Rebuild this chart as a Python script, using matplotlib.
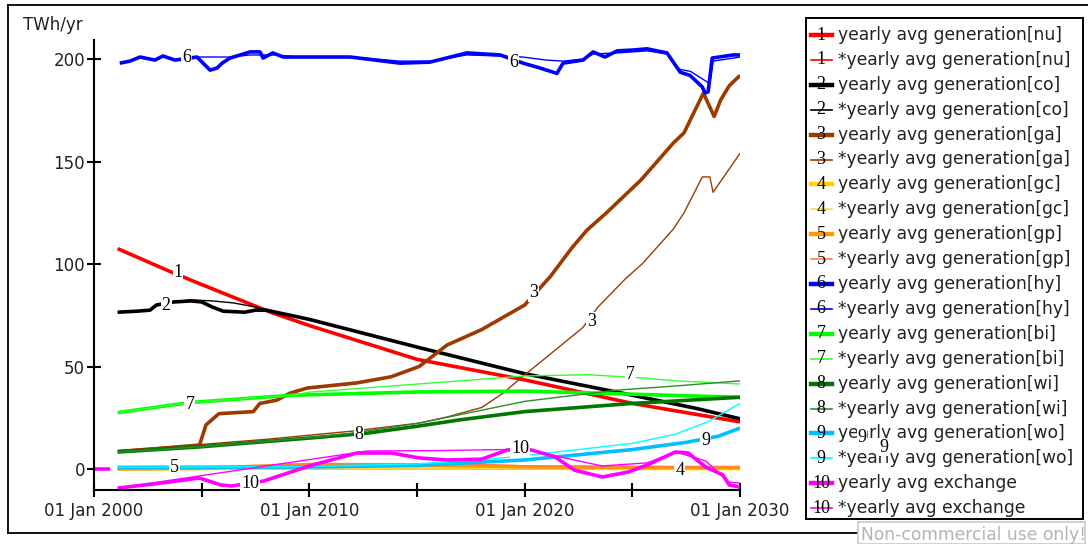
import matplotlib
matplotlib.use("Agg")
import matplotlib.pyplot as plt
import numpy as np
from matplotlib.lines import Line2D
from matplotlib.patches import Rectangle

# ---------------- data (TWh/yr, time in decimal years) ----------------
nu_t = [2001.1, 2003.5, 2005.0, 2008.2, 2010.0, 2015.0, 2020.0, 2025.0, 2030.0]
nu_v = [107.5, 96.5, 90.0, 76.5, 70.0, 53.5, 43.5, 32.0, 23.0]
nu_star_t = nu_t
nu_star_v = nu_v

co_t = [2001.1, 2002.0, 2002.6, 2002.9, 2003.7, 2004.5, 2005.0, 2005.5, 2006.0, 2007.0,
        2007.5, 2008.0, 2010.0, 2015.0, 2020.0, 2025.0, 2028.0, 2030.0]
co_v = [76.5, 77.0, 77.5, 80.0, 81.5, 82.0, 81.5, 79.0, 77.0, 76.5,
        77.5, 77.5, 73.0, 59.5, 46.5, 36.0, 29.5, 24.5]
co_star_t = [2001.1, 2002.0, 2002.6, 2002.9, 2003.7, 2004.5, 2005.5, 2006.5, 2007.5,
             2008.0, 2010.0, 2015.0, 2020.0, 2025.0, 2028.0, 2030.0]
co_star_v = [76.5, 77.0, 77.5, 80.0, 81.5, 82.5, 82.0, 81.0, 79.0,
             77.5, 73.0, 59.5, 46.5, 36.0, 29.5, 24.5]

ga_t = [2001.1, 2003.0, 2004.9, 2005.2, 2005.8, 2007.4, 2007.7, 2008.5, 2009.1, 2009.9,
        2012.2, 2013.8, 2015.1, 2016.4, 2018.0, 2020.0, 2021.2, 2022.2, 2022.9, 2023.8,
        2025.4, 2026.9, 2027.4, 2028.3, 2028.8, 2029.1, 2029.5, 2030.0]
ga_v = [8.5, 10.0, 11.7, 21.5, 27.0, 28.0, 32.0, 33.6, 37.0, 39.5,
        42.0, 45.0, 50.0, 60.5, 68.0, 80.0, 94.0, 108.0, 116.6, 125.0,
        141.0, 159.0, 164.0, 183.4, 172.0, 180.0, 187.0, 192.0]
ga_star_t = [2001.1, 2005.0, 2008.0, 2010.0, 2012.0, 2015.1, 2016.4, 2018.0, 2019.0, 2020.0,
             2020.25, 2022.7, 2023.4, 2024.7, 2025.45, 2026.9, 2027.4, 2028.25, 2028.6,
             2028.75, 2030.0]
ga_star_v = [9.0, 12.0, 14.5, 16.5, 18.5, 22.4, 25.4, 30.0, 37.0, 46.0,
             48.0, 69.0, 79.0, 93.0, 100.0, 117.0, 125.0, 142.5, 142.5,
             135.0, 154.0]

gc_t = [2001.1, 2010.0, 2020.0, 2030.0]
gc_v = [0.2, 0.4, 0.4, 0.2]
gc_star_t = gc_t
gc_star_v = [0.3, 0.5, 0.5, 0.3]

gp_t = [2001.1, 2005.0, 2008.0, 2010.0, 2015.0, 2018.0, 2020.0, 2025.0, 2030.0]
gp_v = [0.0, 0.3, 1.5, 2.2, 2.0, 1.5, 1.0, 0.8, 0.7]
gp_star_t = gp_t
gp_star_v = [0.0, 0.4, 1.8, 2.6, 2.6, 2.2, 1.6, 1.2, 1.0]

hy_t = [2001.2, 2001.67, 2002.14, 2002.83, 2003.2, 2003.76, 2004.78, 2005.39, 2005.71, 2005.95,
        2006.32, 2007.25, 2007.71, 2007.85, 2008.31, 2008.78, 2009.57, 2011.89, 2012.68, 2014.21,
        2015.6, 2017.32, 2018.86, 2019.93, 2020.72, 2021.5, 2021.78, 2022.71, 2023.18, 2023.73,
        2024.29, 2025.03, 2025.68, 2026.61, 2027.22, 2027.68, 2028.24, 2028.38, 2028.52, 2028.71,
        2029.68, 2030.0]
hy_v = [198.0, 199.0, 201.0, 199.5, 201.5, 199.5, 201.0, 194.6, 195.6, 198.0,
        200.5, 203.5, 203.5, 200.5, 203.0, 201.0, 201.0, 201.0, 200.0, 198.0,
        198.5, 203.0, 202.0, 198.0, 195.6, 193.0, 198.0, 199.5, 203.5, 201.0,
        204.0, 204.4, 205.0, 203.0, 193.6, 192.0, 186.5, 183.5, 184.0, 200.5,
        202.0, 202.0]
hy_star_t = [2001.2, 2001.67, 2002.14, 2002.83, 2003.2, 2003.76, 2004.78, 2005.5, 2006.3, 2007.25,
             2008.5, 2009.5, 2012.0, 2014.2, 2015.6, 2017.3, 2018.9, 2019.9, 2021.0, 2021.8,
             2022.7, 2023.2, 2024.3, 2025.7, 2026.6, 2027.2, 2027.7, 2028.3, 2028.6, 2028.75,
             2029.7, 2030.0]
hy_star_v = [198.0, 199.0, 201.0, 199.5, 201.5, 199.5, 201.0, 201.0, 201.0, 202.0,
             202.0, 201.0, 201.0, 199.0, 199.0, 202.0, 201.5, 201.0, 199.5, 199.0,
             200.0, 202.5, 203.0, 204.0, 202.5, 195.0, 194.0, 190.0, 188.0, 199.0,
             200.5, 201.0]

bi_t = [2001.1, 2003.8, 2004.8, 2009.2, 2015.1, 2020.0, 2025.0, 2030.0]
bi_v = [27.5, 31.5, 32.7, 36.0, 37.6, 38.0, 36.5, 35.0]
bi_star_t = [2001.1, 2003.8, 2004.8, 2009.2, 2010.0, 2015.1, 2017.0, 2020.0, 2023.0, 2025.5,
             2027.0, 2030.0]
bi_star_v = [27.5, 31.5, 32.7, 36.0, 37.5, 41.5, 43.0, 45.4, 46.0, 44.4,
             43.0, 41.5]

wi_t = [2001.1, 2004.8, 2010.0, 2012.7, 2015.1, 2017.0, 2020.0, 2025.0, 2030.0]
wi_v = [8.3, 10.7, 15.1, 17.5, 21.0, 24.0, 28.0, 32.0, 35.0]
wi_star_t = [2001.1, 2004.8, 2010.0, 2012.0, 2015.1, 2020.0, 2024.3, 2027.0, 2030.0]
wi_star_v = [8.3, 10.7, 15.3, 17.5, 22.4, 33.0, 38.5, 40.5, 43.0]

wo_t = [2001.1, 2010.0, 2015.0, 2020.0, 2025.0, 2027.5, 2029.0, 2030.0]
wo_v = [0.8, 1.0, 1.8, 4.4, 9.5, 13.0, 16.0, 20.0]
wo_star_t = [2001.1, 2010.0, 2015.0, 2018.0, 2020.0, 2025.0, 2027.0, 2028.5, 2030.0]
wo_star_v = [0.8, 1.2, 2.5, 4.5, 6.5, 12.5, 17.0, 23.0, 32.0]

ex_t = [2000.0, 2000.75, np.nan, 2001.1, 2003.0, 2004.9, 2005.9, 2006.4, 2007.9, 2010.0,
        2012.2, 2013.8, 2015.1, 2016.4, 2018.0, 2019.2, 2020.3, 2021.4, 2022.3, 2023.6,
        2024.8, 2025.7, 2027.0, 2027.6, 2028.4, 2029.2, 2029.5, 2030.0]
ex_v = [0.0, 0.0, np.nan, -9.3, -7.0, -4.4, -7.8, -8.3, -5.8, 1.5,
        7.8, 7.8, 5.4, 4.4, 4.8, 9.3, 9.3, 6.0, -0.5, -3.9,
        -1.5, 2.0, 8.3, 7.8, 1.0, -2.9, -7.8, -8.8]
ex_star_t = [2001.1, 2012.7, 2016.0, 2019.2, 2020.3, 2021.4, 2022.3, 2023.6, 2025.7, 2027.0,
             2028.4, 2029.5, 2030.0]
ex_star_v = [-9.3, 8.8, 9.0, 9.5, 9.3, 6.5, 4.4, 1.5, 3.0, 8.3,
             4.0, -6.5, -6.8]

legend_names = [
    "yearly avg generation[nu]", "*yearly avg generation[nu]",
    "yearly avg generation[co]", "*yearly avg generation[co]",
    "yearly avg generation[ga]", "*yearly avg generation[ga]",
    "yearly avg generation[gc]", "*yearly avg generation[gc]",
    "yearly avg generation[gp]", "*yearly avg generation[gp]",
    "yearly avg generation[hy]", "*yearly avg generation[hy]",
    "yearly avg generation[bi]", "*yearly avg generation[bi]",
    "yearly avg generation[wi]", "*yearly avg generation[wi]",
    "yearly avg generation[wo]", "*yearly avg generation[wo]",
    "yearly avg exchange", "*yearly avg exchange",
]
series_numbers = ["1", "2", "3", "4", "5", "6", "7", "8", "9", "10"]

# in-plot line labels: (text, year, value)
line_labels = [
    ("1", 2003.9, 96.0), ("2", 2003.35, 80.0), ("3", 2020.4, 86.3), ("3", 2023.1, 72.0),
    ("4", 2027.2, -0.5), ("5", 2003.75, 0.5), ("6", 2004.3, 201.0), ("6", 2019.5, 198.5),
    ("7", 2004.45, 31.7), ("7", 2024.9, 45.9), ("8", 2012.3, 16.6), ("9", 2028.4, 14.0),
    ("10", 2007.25, -7.3), ("10", 2019.8, 9.8),
]

# ---------------- styling ----------------
THICK, THIN = 2.6, 1.0
styles = [
    (nu_t, nu_v, "#ff0000", THICK), (nu_star_t, nu_star_v, "#ff0000", THIN),
    (co_t, co_v, "#000000", THICK), (co_star_t, co_star_v, "#000000", THIN),
    (ga_t, ga_v, "#9c3a00", THICK), (ga_star_t, ga_star_v, "#9c3a00", THIN),
    (gc_t, gc_v, "#ffd000", THICK), (gc_star_t, gc_star_v, "#ffd84a", THIN),
    (gp_t, gp_v, "#ff9900", THICK), (gp_star_t, gp_star_v, "#ff7f3f", THIN),
    (hy_t, hy_v, "#0000ff", THICK), (hy_star_t, hy_star_v, "#0000ff", THIN),
    (bi_t, bi_v, "#00ff00", THICK), (bi_star_t, bi_star_v, "#33ff33", THIN),
    (wi_t, wi_v, "#007800", THICK), (wi_star_t, wi_star_v, "#2e8b2e", THIN),
    (wo_t, wo_v, "#00bfff", THICK), (wo_star_t, wo_star_v, "#00ffff", THIN),
    (ex_t, ex_v, "#ff00ff", THICK), (ex_star_t, ex_star_v, "#ff00ff", THIN),
]

W, H = 1088, 544


def fx(x):
    return x / W


def fy(y):
    return 1 - y / H


fig = plt.figure(figsize=(W / 100, H / 100), dpi=100)
fig.patch.set_facecolor("white")

ax = fig.add_axes([fx(94), fy(490), (740 - 94) / W, (490 - 40) / H])
for t, v, c, lw in styles:
    ax.plot(t, v, color=c, lw=lw, solid_joinstyle="round", solid_capstyle="butt", zorder=2)

for txt, t, v in line_labels:
    ax.text(t, v, txt, family="Liberation Serif", fontsize=13, ha="center", va="center",
            zorder=6, bbox=dict(boxstyle="square,pad=0.05", fc="white", ec="none"))

ax.set_xlim(2000, 2030)
ax.set_ylim(-10.24, 209.3)
for s in ("top", "right"):
    ax.spines[s].set_visible(False)
for s in ("left", "bottom"):
    ax.spines[s].set_linewidth(1.5)
    ax.spines[s].set_color("black")

xt = [2000, 2005, 2010, 2015, 2020, 2025, 2030]
ax.set_xticks(xt)
ax.set_xticklabels(["01 Jan %d" % y if y % 10 == 0 else "" for y in xt])
ax.set_yticks([0, 50, 100, 150, 200])
ax.tick_params(axis="both", direction="inout", length=10, width=1.5, labelsize=12,
               colors="black", labelcolor="#222222")
ax.tick_params(axis="x", pad=4)
ax.tick_params(axis="y", pad=1.5)
ax.set_facecolor("white")

fig.text(fx(23), fy(25), "TWh/yr", fontsize=12, color="#222222", ha="left", va="center")

# outer frame
frame_kw = dict(transform=fig.transFigure, color="black", lw=1.3)
fig.add_artist(Line2D([fx(8), fx(1088)], [fy(5), fy(5)], **frame_kw))
fig.add_artist(Line2D([fx(8), fx(8)], [fy(5), fy(533)], **frame_kw))
fig.add_artist(Line2D([fx(8), fx(857)], [fy(533), fy(533)], **frame_kw))

# legend box
fig.add_artist(Rectangle((fx(806), fy(519)), (1083 - 806) / W, (519 - 18) / H,
                         transform=fig.transFigure, fc="white", ec="black", lw=1.4, zorder=3))
for i, name in enumerate(legend_names):
    y = 35 + i * 24.9
    color = styles[i][2]
    lw = 3.2 if i % 2 == 0 else 1.2
    fig.add_artist(Line2D([fx(811), fx(832)], [fy(y), fy(y)], transform=fig.transFigure,
                          color=color, lw=lw, zorder=4))
    fig.text(fx(821), fy(y), series_numbers[i // 2], family="Liberation Serif", fontsize=13,
             ha="center", va="center", zorder=5)
    fig.text(fx(838), fy(y), name, fontsize=12.3, color="#222222", ha="left", va="center", zorder=5)

# stray wo labels drawn past the plot edge
for x, y in [(862, 437), (884, 447)]:
    fig.text(fx(x), fy(y), "9", family="Liberation Serif", fontsize=13, ha="center", va="center",
             zorder=6, bbox=dict(boxstyle="square,pad=0.02", fc="white", ec="none"))

# watermark box
fig.add_artist(Rectangle((fx(858), fy(544)), (1085 - 858) / W, (544 - 522) / H,
                         transform=fig.transFigure, fc="white", ec="#c8c8c8", lw=1.2, zorder=3))
fig.text(fx(861), fy(535), "Non-commercial use only!", fontsize=12.3, color="#b4b4b4",
         ha="left", va="center", zorder=5)

fig.savefig("out.png", dpi=100)
